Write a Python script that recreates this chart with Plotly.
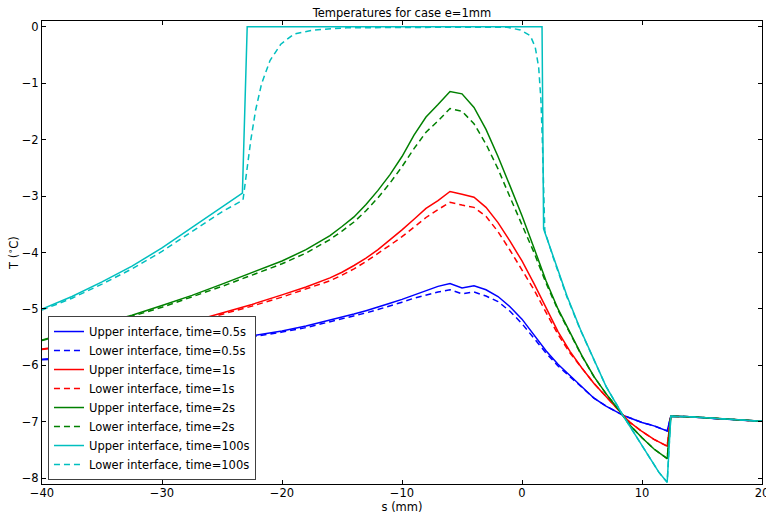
import plotly.graph_objects as go

# Shared s grid (mm) for the 0.5s, 1s and 2s series
S = [-40, -37.5, -35, -32.5, -30, -27.5, -25, -22.5, -20, -18, -16, -15, -14, -13, -12, -11,
     -10, -9, -8, -7, -6, -5, -4, -3, -2, -1, 0, 1, 2, 3, 4, 5, 6, 7, 8, 8.4, 9, 10, 11,
     12.1, 12.4, 14, 16, 18, 20]

upper_05 = [-5.89, -5.85, -5.81, -5.76, -5.70, -5.64, -5.56, -5.48, -5.39, -5.30, -5.20, -5.15,
            -5.09, -5.03, -4.97, -4.90, -4.83, -4.75, -4.68, -4.60, -4.55, -4.63, -4.59, -4.66,
            -4.78, -4.96, -5.18, -5.46, -5.74, -5.98, -6.18, -6.39, -6.58, -6.72, -6.83, -6.88,
            -6.93, -7.01, -7.07, -7.16, -6.90, -6.91, -6.94, -6.97, -6.99]
lower_05 = [-5.90, -5.87, -5.83, -5.78, -5.72, -5.66, -5.58, -5.50, -5.41, -5.33, -5.23, -5.18,
            -5.12, -5.07, -5.01, -4.95, -4.88, -4.81, -4.75, -4.70, -4.66, -4.73, -4.70, -4.77,
            -4.87, -5.04, -5.26, -5.52, -5.78, -6.01, -6.20, -6.40, -6.58, -6.72, -6.83, -6.88,
            -6.93, -7.01, -7.07, -7.16, -6.90, -6.91, -6.94, -6.97, -6.99]

upper_1 = [-5.71, -5.64, -5.55, -5.46, -5.35, -5.22, -5.07, -4.92, -4.75, -4.61, -4.45, -4.35,
           -4.23, -4.10, -3.95, -3.78, -3.60, -3.41, -3.22, -3.08, -2.92, -2.97, -3.02, -3.20,
           -3.47, -3.80, -4.15, -4.55, -4.98, -5.40, -5.75, -6.05, -6.32, -6.55, -6.78, -6.88,
           -7.01, -7.17, -7.31, -7.43, -6.90, -6.91, -6.94, -6.97, -6.99]
lower_1 = [-5.72, -5.65, -5.57, -5.48, -5.37, -5.24, -5.10, -4.95, -4.79, -4.65, -4.50, -4.40,
           -4.29, -4.16, -4.02, -3.87, -3.72, -3.55, -3.38, -3.24, -3.11, -3.16, -3.20, -3.36,
           -3.63, -3.96, -4.30, -4.66, -5.06, -5.45, -5.78, -6.06, -6.32, -6.55, -6.78, -6.88,
           -7.01, -7.17, -7.31, -7.43, -6.90, -6.91, -6.94, -6.97, -6.99]

upper_2 = [-5.55, -5.40, -5.26, -5.11, -4.94, -4.76, -4.56, -4.36, -4.15, -3.95, -3.70, -3.54,
           -3.37, -3.15, -2.90, -2.62, -2.30, -1.92, -1.60, -1.38, -1.15, -1.19, -1.43, -1.82,
           -2.30, -2.82, -3.35, -3.92, -4.50, -5.00, -5.42, -5.83, -6.20, -6.50, -6.77, -6.88,
           -7.06, -7.28, -7.48, -7.65, -6.90, -6.91, -6.94, -6.97, -6.99]
lower_2 = [-5.56, -5.42, -5.28, -5.13, -4.97, -4.79, -4.60, -4.40, -4.20, -4.01, -3.77, -3.62,
           -3.46, -3.26, -3.03, -2.77, -2.48, -2.16, -1.87, -1.67, -1.45, -1.50, -1.72, -2.08,
           -2.52, -3.02, -3.50, -4.00, -4.54, -5.02, -5.43, -5.84, -6.20, -6.50, -6.77, -6.88,
           -7.06, -7.28, -7.48, -7.65, -6.90, -6.91, -6.94, -6.97, -6.99]

# 100 s series have their own grids (sharp jumps)
S_upper_100 = [-40, -37.5, -35, -32.5, -30, -27.5, -25, -23.3, -22.9, 1.67, 1.8, 2.6, 3.75,
               4.86, 5.97, 7.0, 8.4, 9.5, 10.5, 11.4, 12.1, 12.4, 14, 16, 18, 20]
upper_100 = [-5.00, -4.78, -4.52, -4.24, -3.92, -3.56, -3.19, -2.95, 0.0, 0.0, -3.58, -4.07,
             -4.77, -5.36, -5.89, -6.37, -6.88, -7.25, -7.57, -7.89, -8.07, -6.90, -6.91,
             -6.94, -6.97, -6.99]

S_lower_100 = [-40, -37.5, -35, -32.5, -30, -27.5, -25, -23.25, -22.9, -22.6, -22.2, -21.7,
               -21.0, -20.1, -19.0, -17.4, -14.6, -10, -5, -1.25, -0.14, 0.69, 1.1, 1.39,
               1.58, 1.72, 1.8, 1.9, 2.6, 3.75, 4.86, 5.97, 7.0, 8.4, 9.5, 10.5, 11.4, 12.1,
               12.4, 14, 16, 18, 20]
lower_100 = [-5.02, -4.81, -4.56, -4.29, -3.98, -3.63, -3.28, -3.07, -2.48, -2.01, -1.48,
             -1.01, -0.60, -0.31, -0.13, -0.06, -0.02, -0.01, -0.01, -0.01, -0.06, -0.16,
             -0.36, -0.72, -1.31, -2.19, -3.07, -3.62, -4.09, -4.79, -5.37, -5.89, -6.37,
             -6.88, -7.25, -7.57, -7.89, -8.07, -6.90, -6.91, -6.94, -6.97, -6.99]

X_TICKS = [-40, -30, -20, -10, 0, 10, 20]
Y_TICKS = [0, -1, -2, -3, -4, -5, -6, -7, -8]

series = [
    ("Upper interface, time=0.5s", S, upper_05, "#0000ff", "solid"),
    ("Lower interface, time=0.5s", S, lower_05, "#0000ff", "dash"),
    ("Upper interface, time=1s", S, upper_1, "#ff0000", "solid"),
    ("Lower interface, time=1s", S, lower_1, "#ff0000", "dash"),
    ("Upper interface, time=2s", S, upper_2, "#008000", "solid"),
    ("Lower interface, time=2s", S, lower_2, "#008000", "dash"),
    ("Upper interface, time=100s", S_upper_100, upper_100, "#00bfbf", "solid"),
    ("Lower interface, time=100s", S_lower_100, lower_100, "#00bfbf", "dash"),
]

FONT = "DejaVu Sans"
fig = go.Figure()
for name, xs, ys, col, style in series:
    fig.add_trace(go.Scatter(
        x=xs, y=ys, mode="lines", name=name,
        line=dict(color=col, width=1.5, dash="6px,4px" if style == "dash" else "solid"),
    ))

axis_common = dict(
    showline=True, linecolor="#000000", linewidth=1, mirror="ticks",
    ticks="inside", ticklen=4, tickcolor="#000000", showgrid=False, zeroline=False,
    tickfont=dict(family=FONT, size=11.5, color="#000000"),
)
fig.update_xaxes(range=[-40, 20], tickvals=X_TICKS, ticklabeloverflow="allow",
                 ticklabelstandoff=-2, **axis_common,
                 title=dict(text="s (mm)", font=dict(family=FONT, size=11.5, color="#000000"),
                            standoff=3))
fig.update_yaxes(range=[-8.1, 0.1], tickvals=Y_TICKS, **axis_common,
                 title=dict(text="T (<sup>∘</sup>C)", font=dict(family=FONT, size=11.5, color="#000000"),
                            standoff=0))

fig.update_layout(
    width=766, height=514,
    margin=dict(l=42, r=4, t=21, b=30, autoexpand=False),
    paper_bgcolor="white", plot_bgcolor="white",
    font=dict(family=FONT, size=11.5, color="#000000"),
    title=dict(text="Temperatures for case e=1mm", x=0.5247, xanchor="center",
               y=1 - 12.5 / 514, yanchor="middle", yref="container",
               font=dict(family=FONT, size=11.5, color="#000000")),
    legend=dict(x=0.0083, y=0.0086, xanchor="left", yanchor="bottom",
                bgcolor="white", bordercolor="#404040", borderwidth=1,
                font=dict(family=FONT, size=11.5, color="#000000"),
                tracegroupgap=0, itemwidth=30),
    showlegend=True,
)

fig.write_html("out.html", config={"displayModeBar": False},
               post_script="document.body.style.margin='0';")
